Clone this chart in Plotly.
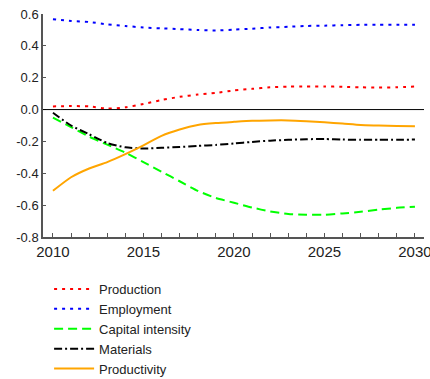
import plotly.graph_objects as go

years = list(range(2010, 2031))
production = [0.02, 0.022, 0.02, 0.006, 0.014, 0.035, 0.06, 0.08, 0.094, 0.105, 0.12, 0.13, 0.14, 0.144, 0.145, 0.145, 0.143, 0.14, 0.138, 0.14, 0.145]
employment = [0.567, 0.556, 0.55, 0.535, 0.525, 0.515, 0.51, 0.505, 0.5, 0.497, 0.502, 0.508, 0.515, 0.52, 0.525, 0.527, 0.53, 0.532, 0.532, 0.533, 0.533]
capital_intensity = [-0.05, -0.11, -0.17, -0.22, -0.27, -0.33, -0.39, -0.45, -0.51, -0.555, -0.585, -0.615, -0.64, -0.655, -0.66, -0.66, -0.652, -0.642, -0.628, -0.617, -0.61]
materials = [-0.02, -0.1, -0.155, -0.21, -0.237, -0.245, -0.24, -0.235, -0.228, -0.222, -0.213, -0.203, -0.195, -0.19, -0.186, -0.185, -0.188, -0.19, -0.19, -0.19, -0.188]
productivity = [-0.51, -0.425, -0.37, -0.33, -0.28, -0.225, -0.165, -0.125, -0.097, -0.085, -0.077, -0.07, -0.068, -0.068, -0.073, -0.08, -0.088, -0.097, -0.1, -0.103, -0.104]

x_tickvals = [2010, 2015, 2020, 2025, 2030]
y_tickvals = [-0.8, -0.6, -0.4, -0.2, 0.0, 0.2, 0.4, 0.6]
y_ticktext = ["-0.8", "-0.6", "-0.4", "-0.2", "0.0", "0.2", "0.4", "0.6"]

series = [
    ("Production", production, "#FF0000", "3px,5px"),
    ("Employment", employment, "#0000FF", "3px,5px"),
    ("Capital intensity", capital_intensity, "#00FF00", "9px,5px"),
    ("Materials", materials, "#000000", "8px,3px,2px,3px"),
    ("Productivity", productivity, "#FFA500", "solid"),
]

fig = go.Figure()
for name, vals, color, dash in series:
    fig.add_trace(go.Scatter(x=years, y=vals, mode="lines", name=name,
                             line=dict(color=color, width=2, dash=dash, shape="spline", smoothing=0.6)))

fig.add_shape(type="line", xref="paper", yref="y", x0=0, x1=1, y0=0, y1=0,
              line=dict(color="black", width=1))

fig.update_layout(
    width=430, height=379,
    margin=dict(l=43, r=6, t=14, b=142, autoexpand=False),
    paper_bgcolor="white", plot_bgcolor="white",
    font=dict(family="Liberation Sans, Arial, sans-serif", size=13, color="#222"),
    showlegend=True,
    legend=dict(x=0.016, y=-0.166, xanchor="left", yanchor="top",
                font=dict(size=13, color="#222"), tracegroupgap=0, itemwidth=40,
                bgcolor="rgba(0,0,0,0)"),
    xaxis=dict(range=[2009.45, 2030.5], tickvals=x_tickvals, automargin=False,
               tickfont=dict(size=15), ticklabeloverflow="allow",
               showgrid=False, zeroline=False, showline=True, linecolor="#555", linewidth=1.5,
               ticks="inside", ticklen=4, tickcolor="#555",
               minor=dict(dtick=1, tick0=2010, ticks="inside", ticklen=4, tickcolor="#555", showgrid=False)),
    yaxis=dict(range=[-0.8, 0.6], tickvals=y_tickvals, ticktext=y_ticktext, automargin=False,
               ticklabeloverflow="allow",
               showgrid=False, zeroline=False, showline=True, linecolor="#555", linewidth=1.5,
               ticks="inside", ticklen=3, tickcolor="#555"),
)

fig.write_html("out.html")
